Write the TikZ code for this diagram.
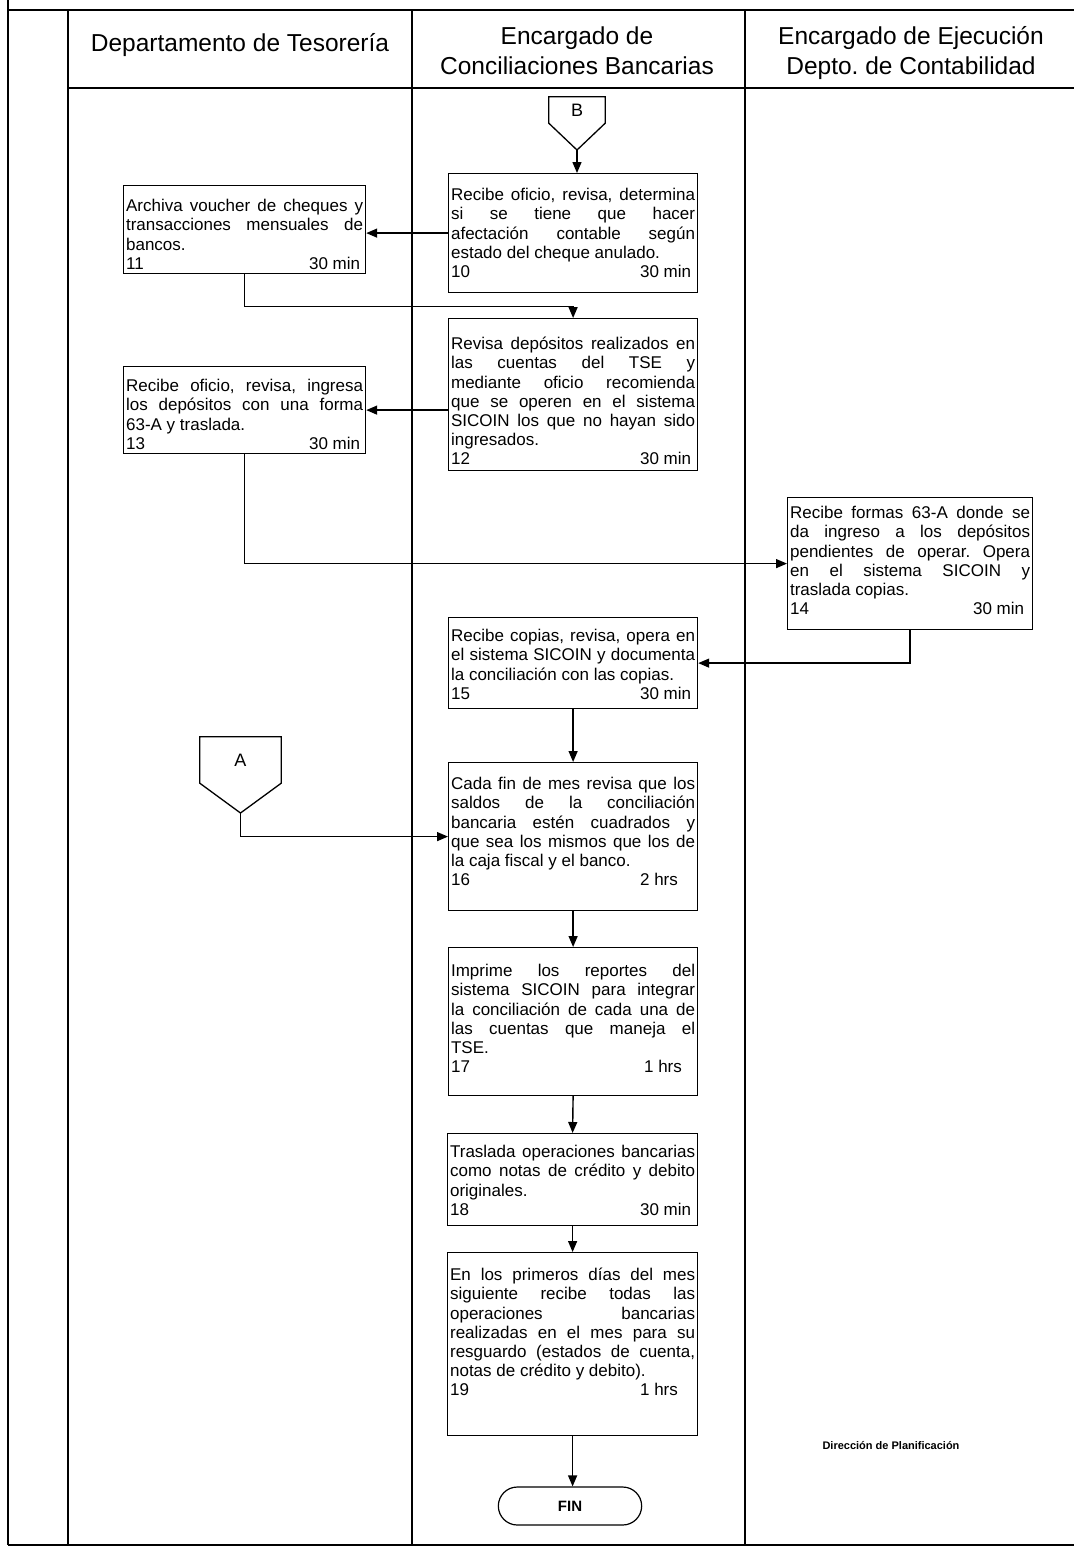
\documentclass[tikz,border=0pt]{standalone}
\usepackage{fontspec}
\setmainfont{Liberation Sans}
\usetikzlibrary{arrows.meta,shapes.misc,calc}
\tolerance=10000 \hbadness=10000 \hyphenpenalty=10000 \exhyphenpenalty=10000
\frenchspacing
\newcommand\numln[3]{\par\noindent\makebox[#3pt][l]{#1}#2}
\begin{document}
\begin{tikzpicture}[x=1pt,y=-1pt,
  frame/.style={line width=1.4pt},
  thickframe/.style={line width=2.2pt},
  proc/.style={draw, line width=1.2pt, anchor=north west, inner xsep=2.5pt, inner ysep=0pt,
    align=justify, font=\fontsize{17}{19.2}\selectfont},
  arr/.style={line width=1.4pt, -{Triangle[length=11pt,width=9pt]}},
  ln/.style={line width=1.3pt},
  hdr/.style={font=\fontsize{24.5}{30}\selectfont, align=center},
  conn/.style={inner sep=0pt, font=\fontsize{18}{20}\selectfont}]
\useasboundingbox (0,0) rectangle (1074,1551);
% frame
\coordinate (TL) at (8,0);
\coordinate (T1) at (8,10);
\coordinate (T2) at (1074,10);
\coordinate (BL) at (8,1545);
\coordinate (BR) at (1074,1545);
\draw[thickframe] (T1) -- (T2);
\draw[frame] (TL) -- (BL);
\draw[thickframe] (BL) -- (BR);
\draw[frame] (68,10) -- (68,1545);
\draw[frame] (412,10) -- (412,1545);
\draw[frame] (745,10) -- (745,1545);
\draw[frame] (68,88) -- (1074,88);
% headers
\node[hdr] (h1) at (240,45) {Departamento de Tesorería};
\node[hdr] (h2) at (577,51) {Encargado de\\Conciliaciones Bancarias};
\node[hdr] (h3) at (911,53) {Encargado de Ejecución\\Depto. de Contabilidad};
% connector B
\node[conn, minimum width=56pt, minimum height=26pt] (B) at (577,110) {B};
\coordinate (Btip) at (577,150);
\draw[ln] (B.south west) -- (B.north west) -- (B.north east) -- (B.south east) -- (Btip) -- cycle;
% connector A
\node[conn, minimum width=81pt, minimum height=46pt] (A) at (240.5,760) {A};
\coordinate (Atip) at (240.5,813);
\draw[ln] (A.south west) -- (A.north west) -- (A.north east) -- (A.south east) -- (Atip) -- cycle;
% process boxes
\node[proc, text width=244pt, text height=27pt, text depth=92pt] (n10) at (448,173)
 {Recibe oficio, revisa, determina\linebreak si se tiene que hacer\linebreak afectación contable según\linebreak estado del cheque anulado.\numln{10}{30 min}{189}};
\node[proc, text width=237pt, text height=26pt, text depth=62pt] (n11) at (123,185)
 {Archiva voucher de cheques y\linebreak transacciones mensuales de\linebreak bancos.\numln{11}{30 min}{183}};
\node[proc, text width=244pt, text height=31pt, text depth=121pt] (n12) at (448,318)
 {Revisa depósitos realizados en\linebreak las cuentas del TSE y\linebreak mediante oficio recomienda\linebreak que se operen en el sistema\linebreak SICOIN los que no hayan sido\linebreak ingresados.\numln{12}{30 min}{189}};
\node[proc, text width=237pt, text height=25pt, text depth=62pt] (n13) at (123,366)
 {Recibe oficio, revisa, ingresa\linebreak los depósitos con una forma\linebreak 63-A y traslada.\numln{13}{30 min}{183}};
\node[proc, text width=240pt, text height=21pt, text depth=111pt] (n14) at (787,497)
 {Recibe formas 63-A donde se\linebreak da ingreso a los depósitos\linebreak pendientes de operar. Opera\linebreak en el sistema SICOIN y\linebreak traslada copias.\numln{14}{30 min}{183}};
\node[proc, text width=244pt, text height=24pt, text depth=67pt] (n15) at (448,617)
 {Recibe copias, revisa, opera en\linebreak el sistema SICOIN y documenta\linebreak la conciliación con las copias.\numln{15}{30 min}{189}};
\node[proc, text width=244pt, text height=27pt, text depth=121pt] (n16) at (448,762)
 {Cada fin de mes revisa que los\linebreak saldos de la conciliación\linebreak bancaria estén cuadrados y\linebreak que sea los mismos que los de\linebreak la caja fiscal y el banco.\numln{16}{2 hrs}{189}};
\node[proc, text width=244pt, text height=29pt, text depth=119pt] (n17) at (448,947)
 {Imprime los reportes del\linebreak sistema SICOIN para integrar\linebreak la conciliación de cada una de\linebreak las cuentas que maneja el\linebreak TSE.\numln{17}{1 hrs}{193}};
\node[proc, text width=245pt, text height=24pt, text depth=68pt] (n18) at (447,1133)
 {Traslada operaciones bancarias\linebreak como notas de crédito y debito\linebreak originales.\numln{18}{30 min}{190}};
\node[proc, text width=245pt, text height=28pt, text depth=155pt] (n19) at (447,1252)
 {En los primeros días del mes\linebreak siguiente recibe todas las\linebreak operaciones bancarias\linebreak realizadas en el mes para su\linebreak resguardo (estados de cuenta,\linebreak notas de crédito y debito).\numln{19}{1 hrs}{190}};
\node[draw, rounded rectangle, line width=1.2pt, minimum width=150pt, minimum height=38pt,
  font=\bfseries\fontsize{15}{18}\selectfont] (fin) at (570,1506) {FIN};
\node[font=\bfseries\fontsize{11}{13}\selectfont] (dp) at (891,1446) {Dirección de Planificación};
% connectors
\draw[arr] (Btip) -- (Btip |- n10.north);
\draw[arr] (n10.west) -- (n10.west -| n11.east);
\draw[arr] (n11.south) -- ++(0,32) -| (n12.north);
\draw[arr] (n12.west |- n13.east) -- (n13.east);
\draw[arr] (n13.south) |- (n14.west);
\draw[arr] (n14.south) |- (n15.east);
\draw[arr] (n15.south) -- (n16.north);
\draw[arr] (Atip) |- (n16.west);
\draw[arr] (n16.south) -- (n17.north);
\draw[arr] (n17.south) -- (n18.north);
\draw[arr] (n18.south) -- (n19.north);
\draw[arr] (n19.south) -- (n19.south |- fin.north);
\end{tikzpicture}
\end{document}
